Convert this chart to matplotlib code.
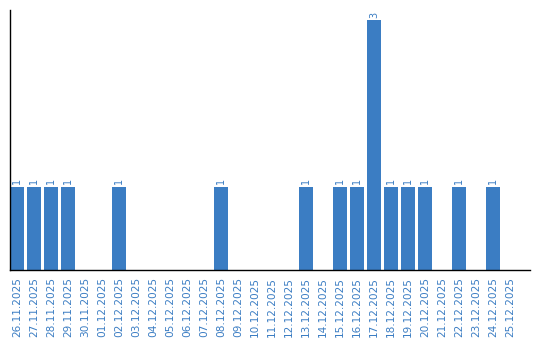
import matplotlib
matplotlib.use("Agg")
import matplotlib.pyplot as plt

dates = ["26.11.2025", "27.11.2025", "28.11.2025", "29.11.2025", "30.11.2025",
         "01.12.2025", "02.12.2025", "03.12.2025", "04.12.2025", "05.12.2025",
         "06.12.2025", "07.12.2025", "08.12.2025", "09.12.2025", "10.12.2025",
         "11.12.2025", "12.12.2025", "13.12.2025", "14.12.2025", "15.12.2025",
         "16.12.2025", "17.12.2025", "18.12.2025", "19.12.2025", "20.12.2025",
         "21.12.2025", "22.12.2025", "23.12.2025", "24.12.2025", "25.12.2025"]
counts = [1, 1, 1, 1, 0, 0, 1, 0, 0, 0, 0, 0, 1, 0, 0,
          0, 0, 1, 0, 1, 1, 3, 1, 1, 1, 0, 1, 0, 1, 0]

blue = "#3b7dc3"

fig = plt.figure(figsize=(5.4, 3.4), dpi=100)
ax = fig.add_axes([10 / 540, 70 / 340, 520 / 540, 260 / 340])

x = list(range(len(dates)))
ax.bar(x, counts, width=14 / 17, color=blue)
for xi, c in zip(x, counts):
    if c > 0:
        ax.text(xi, c + 0.03, str(c), rotation=90, ha="center", va="bottom",
                color=blue, fontsize=7)

ax.set_xlim(-7 / 17, 513 / 17)
ax.set_ylim(0, 3 * 260 / 250)
ax.set_xticks(x)
ax.set_xticklabels(dates, rotation=90, color=blue, fontsize=7.6)
ax.tick_params(axis="x", length=0, pad=5)
ax.set_yticks([])
for s in ["top", "right"]:
    ax.spines[s].set_visible(False)
ax.spines["left"].set_linewidth(1.0)
ax.spines["bottom"].set_linewidth(1.0)

fig.savefig("out.png", dpi=100)
